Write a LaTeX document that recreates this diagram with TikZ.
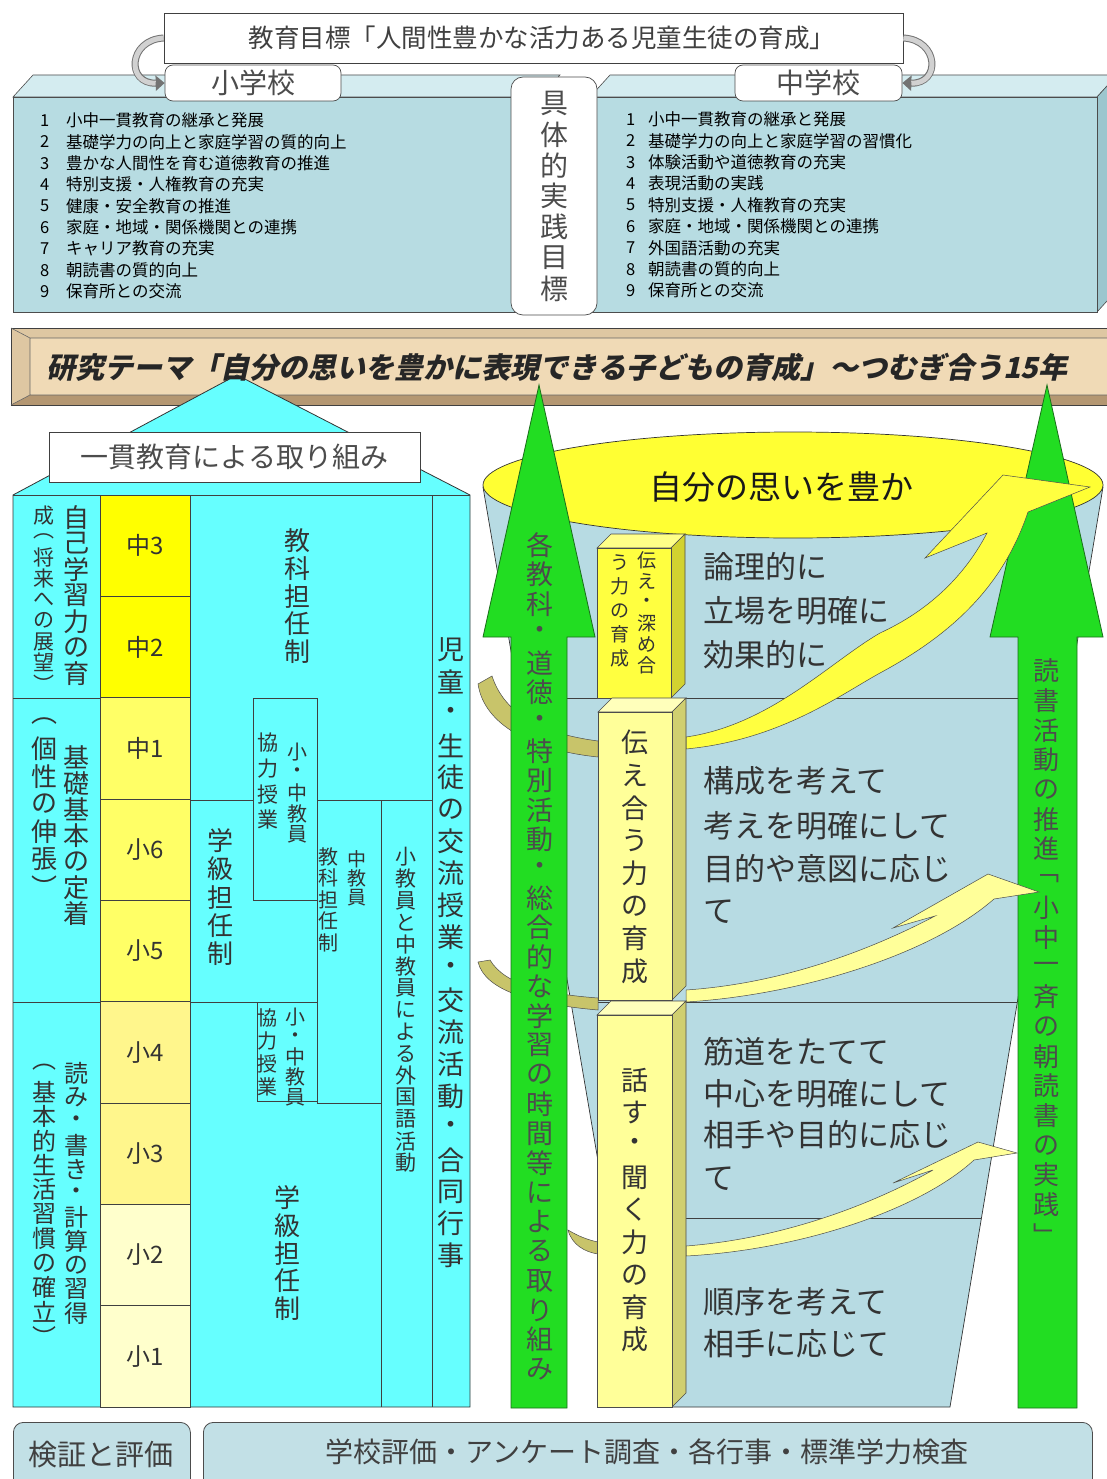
\documentclass[tikz,border=0pt]{standalone}
\usepackage{fontspec}
\setmainfont{Noto Sans CJK JP}
\newfontfamily\bannerfont{Noto Sans CJK JP}[FakeSlant=0.22]
\usetikzlibrary{arrows.meta}
\definecolor{panel}{HTML}{B7DCE2}
\definecolor{paneltop}{HTML}{D4ECF0}
\definecolor{panelside}{HTML}{9CC6CE}
\definecolor{bannerface}{HTML}{F0DAB6}
\definecolor{bannerlight}{HTML}{DEC7A2}
\definecolor{bannerdark}{HTML}{B49772}
\definecolor{cyanb}{HTML}{66FFFF}
\definecolor{gA}{HTML}{FFFF00}
\definecolor{gB}{HTML}{FFFF66}
\definecolor{gC}{HTML}{FFF68C}
\definecolor{gD}{HTML}{FFFFCC}
\definecolor{cup}{HTML}{B7DBE3}
\definecolor{grn}{HTML}{22DD22}
\definecolor{grnline}{HTML}{1B6E1B}
\definecolor{ell}{HTML}{FFFF33}
\definecolor{swA}{HTML}{FFFF40}
\definecolor{swB}{HTML}{FFFF99}
\definecolor{olv}{HTML}{C8C46A}
\definecolor{evalfill}{HTML}{C2E0E6}
\definecolor{txt}{HTML}{333333}
\definecolor{colAf}{HTML}{FFFF40}
\definecolor{colAt}{HTML}{FFFF88}
\definecolor{colAs}{HTML}{D2D230}
\definecolor{colBf}{HTML}{FFFF99}
\definecolor{colBt}{HTML}{FFFFBB}
\definecolor{colBs}{HTML}{D0CF70}
\newcommand\fsz[1]{\fontsize{#1}{#1}\selectfont}
\ExplSyntaxOn
\NewDocumentCommand \vt { O{1.05} m }
  {
    \vbox:n
      {
        \offinterlineskip
        \tl_map_inline:nn {#2}
          {
            \hbox_to_wd:nn {1em}
              { \hss \vbox_to_ht:nn {#1em} { \vss \hbox:n {##1} \vss } \hss }
          }
      }
  }
\ExplSyntaxOff
\begin{document}
\begin{tikzpicture}[x=1pt,y=-1pt,
  ln/.style={draw=black!75, line width=0.7pt},
  vn/.style={inner sep=0pt, anchor=north, text=black!80},
  listt/.style={anchor=west, inner sep=0pt, font=\fsz{16.5}, text=black},
  cell/.style={draw=black!75, line width=0.7pt, inner sep=0pt, font=\fsz{24}, text=txt},
  cuptxt/.style={anchor=west, inner sep=0pt, font=\fsz{31}, text=txt},
  rbox/.style={draw=black!70, line width=0.7pt, rounded corners=8pt, fill=white, inner sep=0pt, text=black!70},
  edge3/.style={draw=black!70, line width=0.6pt}]
\useasboundingbox (0,0) rectangle (1107,1479);
\fill[white] (0,0) rectangle (1107,1479);

% ---------- top panels
\filldraw[fill=paneltop, edge3] (13,97) -- (33,75) -- (560,75) -- (540,97) -- cycle;
\filldraw[fill=panel, edge3] (13,97) rectangle (540,312);
\filldraw[fill=paneltop, edge3] (590,97) -- (610,75) -- (1117,75) -- (1097,97) -- cycle;
\filldraw[fill=panelside, edge3] (1097,97) -- (1117,75) -- (1117,290) -- (1097,312) -- cycle;
\filldraw[fill=panel, edge3] (590,97) rectangle (1097,312);

\foreach \itm [count=\i] in {小中一貫教育の継承と発展,基礎学力の向上と家庭学習の質的向上,豊かな人間性を育む道徳教育の推進,特別支援・人権教育の充実,健康・安全教育の推進,家庭・地域・関係機関との連携,キャリア教育の充実,朝読書の質的向上,保育所との交流}{
  \node[listt] (sn\i) at (40,{99+21.4*\i}) {\i};
  \node[listt] (st\i) at (66,{99+21.4*\i}) {\itm};
}
\foreach \itm [count=\i] in {小中一貫教育の継承と発展,基礎学力の向上と家庭学習の習慣化,体験活動や道徳教育の充実,表現活動の実践,特別支援・人権教育の充実,家庭・地域・関係機関との連携,外国語活動の充実,朝読書の質的向上,保育所との交流}{
  \node[listt] (cn\i) at (626,{98+21.4*\i}) {\i};
  \node[listt] (ct\i) at (648,{98+21.4*\i}) {\itm};
}

\node[rbox, rounded corners=12pt, minimum width=86pt, minimum height=238pt] (jissen) at (554,196) {\fsz{28}\vt[1.1]{具体的実践目標}};
\node[rbox, minimum width=176pt, minimum height=36pt] (sho) at (253,83) {\fsz{28}小学校};
\node[rbox, minimum width=167pt, minimum height=36pt] (chu) at (818.5,83) {\fsz{28}中学校};
\node[draw=black!75, line width=0.8pt, fill=white, minimum width=739pt, minimum height=50pt, inner sep=0pt] (goal) at (533.5,38) {};
\node[inner sep=0pt, text=black!75] (goaltxt) at (542,38) {\fsz{25.5}教育目標「人間性豊かな活力ある児童生徒の育成」};

\draw[line width=7pt, black!55, -{Triangle[length=9pt,width=15pt]}] (goal.west) .. controls (128,40) and (126,84) .. (sho.west);
\draw[line width=5pt, black!18, shorten >=9pt] (goal.west) .. controls (128,40) and (126,84) .. (sho.west);
\draw[line width=7pt, black!55, -{Triangle[length=9pt,width=15pt]}] (goal.east) .. controls (939,40) and (941,84) .. (chu.east);
\draw[line width=5pt, black!18, shorten >=9pt] (goal.east) .. controls (939,40) and (941,84) .. (chu.east);

% ---------- banner
\fill[bannerdark] (11,328) rectangle (1110,405);
\fill[bannerlight] (11,328) -- (1110,328) -- (1110,338) -- (30,338) -- (30,395) -- (11,405) -- cycle;
\fill[bannerface] (30,338) rectangle (1110,395);
\draw[black!75, line width=0.8pt] (11,328) rectangle (1110,405);
\draw[black!60, line width=0.6pt] (30,338) -- (1110,338) (30,338) -- (30,395) -- (1110,395) (11,328) -- (30,338) (11,405) -- (30,395);

% ---------- house (left)
\filldraw[fill=cyanb, draw=black!80, line width=0.8pt] (13,1407) -- (13,495) -- (237,375) -- (470,495) -- (470,1407) -- cycle;
\draw[ln] (13,495) -- (470,495);
\node[inner sep=0pt, text=black!85] (theme) at (557,367) {\bannerfont\bfseries\fsz{29}研究テーマ「自分の思いを豊かに表現できる子どもの育成」〜つむぎ合う15年};
\node[draw=black!75, line width=0.8pt, fill=white, minimum width=371pt, minimum height=50pt, inner sep=0pt, text=black!70] (ikkan) at (234.5,457) {\fsz{28}一貫教育による取り組み};

\foreach \g/\gc [count=\i] in {中3/gA,中2/gA,中1/gB,小6/gB,小5/gB,小4/gC,小3/gC,小2/gD,小1/gD}{
  \node[cell, fill=\gc, minimum width=90pt, minimum height=101.33pt] (gr\i) at (145,{495+101.33*(\i-0.5)}) {\g};
}
\draw[ln] (13,698.3) -- (100,698.3);
\draw[ln] (13,1002) -- (100,1002);
\draw[ln] (190,800) -- (432,800);
\draw[ln] (432,495) -- (432,1407);
\draw[ln] (381,800) -- (381,1407);
\draw[ln] (190,1002) -- (317,1002);
\draw[ln] (317,900) -- (317,1103) -- (381,1103);
\node[draw=black!75, line width=0.7pt, fill=cyanb, minimum width=64pt, minimum height=202pt, anchor=north west, inner sep=0pt] (kyo1) at (253,698) {};
\node[draw=black!75, line width=0.7pt, fill=cyanb, minimum width=60pt, minimum height=99pt, anchor=north west, inner sep=0pt] (kyo2) at (257,1002) {};

\node[vn] (r1a) at (76,504) {\fsz{26}\vt[1.0]{自己学習力の育}};
\node[vn] (r1b) at (44,505) {\fsz{21}\vt[1.0]{成︵将来への展望︶}};
\node[vn] (r2a) at (76,744) {\fsz{26}\vt[1.0]{基礎基本の定着}};
\node[vn] (r2b) at (44,707) {\fsz{26}\vt[1.06]{︵個性の伸張︶}};
\node[vn] (r3a) at (76,1061) {\fsz{24}\vt[1.0]{読み・書き・計算の習得}};
\node[vn] (r3b) at (44,1055) {\fsz{24}\vt[1.02]{︵基本的生活習慣の確立︶}};

\node[vn] (kk) at (297,527) {\fsz{26}\vt[1.06]{教科担任制}};
\node[vn] (k1a) at (297,742) {\fsz{20}\vt[1.02]{小・中教員}};
\node[vn] (k1b) at (268,730) {\fsz{21}\vt[1.22]{協力授業}};
\node[vn] (gk1) at (220,826) {\fsz{26}\vt[1.09]{学級担任制}};
\node[vn] (ck1) at (357,850) {\fsz{19}\vt[1.0]{中教員}};
\node[vn] (ck2) at (328,846) {\fsz{20}\vt[1.07]{教科担任制}};
\node[vn] (gai) at (406,846) {\fsz{21}\vt[1.04]{小教員と中教員による外国語活動}};
\node[vn] (k2a) at (295,1007) {\fsz{20}\vt[1.0]{小・中教員}};
\node[vn] (k2b) at (267,1006) {\fsz{20}\vt[1.15]{協力授業}};
\node[vn] (gk2) at (287,1184) {\fsz{26}\vt[1.06]{学級担任制}};
\node[vn] (kouryu) at (451,634) {\fsz{27}\vt[1.18]{児童・生徒の交流授業・交流活動・合同行事}};

% ---------- cup (right)
\filldraw[fill=cup, draw=black!80, line width=0.7pt] (483,487) -- (1103,487) -- (950,1407) -- (640,1407) -- cycle;
\draw[ln] (519,698) -- (1068,698);
\draw[ln] (571,1002) -- (1017,1002);
\draw[ln] (608,1218) -- (981,1218);
\filldraw[fill=ell, draw=black!80, line width=0.7pt] (793,485) ellipse [x radius=310, y radius=53];
\node[inner sep=0pt, text=black!90] (omoi) at (781,487) {\fsz{33}自分の思いを豊か};

% olive back tails
\filldraw[fill=olv, draw=black!70, line width=0.5pt] (478,684) .. controls (484,724) and (530,750) .. (598,757) -- (598,741) .. controls (545,734) and (505,716) .. (492,676) -- cycle;
\filldraw[fill=olv, draw=black!70, line width=0.5pt] (478,962) .. controls (485,990) and (530,1004) .. (598,1010) -- (598,998) .. controls (545,994) and (505,985) .. (490,960) -- cycle;
\filldraw[fill=olv, draw=black!70, line width=0.5pt] (568,1230) .. controls (572,1245) and (585,1252) .. (598,1254) -- (598,1242) .. controls (588,1240) and (578,1236) .. (568,1230) -- cycle;

% green arrows
\filldraw[fill=grn, draw=grnline, line width=0.8pt] (511,1408) -- (511,637) -- (483,637) -- (539,385) -- (595,637) -- (567,637) -- (567,1408) -- cycle;
\filldraw[fill=grn, draw=grnline, line width=0.8pt] (1018,1408) -- (1018,637) -- (990,637) -- (1047,385) -- (1103,637) -- (1077,637) -- (1077,1408) -- cycle;
\node[vn, text=black!70] (gtxtL) at (540,530) {\fsz{27}\vt[1.09]{各教科・道徳・特別活動・総合的な学習の時間等による取り組み}};
\node[vn, text=black!70] (gtxtR) at (1046,656) {\fsz{26}\vt[1.14]{読書活動の推進﹁小中一斉の朝読書の実践﹂}};

% swirl front bands
\filldraw[fill=swA, draw=black!70, line width=0.5pt] (686,749) .. controls (780,740) and (840,695) .. (880,673) .. controls (960,630) and (1005,580) .. (1028,512) -- (1090,487) -- (1003,475) -- (925,558) -- (987,533) .. controls (965,575) and (930,610) .. (880,633) .. controls (830,662) and (770,725) .. (686,737) -- cycle;
\filldraw[fill=swB, draw=black!70, line width=0.5pt] (686,1002) .. controls (800,995) and (930,955) .. (994,899) -- (1039,892) -- (988,874) -- (893,928) -- (935,916) .. controls (880,945) and (790,983) .. (686,990) -- cycle;
\filldraw[fill=swB, draw=black!70, line width=0.5pt] (686,1256) .. controls (800,1250) and (920,1210) .. (974,1160) -- (1017,1153) -- (978,1142) -- (893,1183) -- (933,1170) .. controls (880,1200) and (790,1238) .. (686,1246) -- cycle;

% 3D columns
\filldraw[fill=colAt, edge3] (597,548) -- (611,534) -- (685,534) -- (671,548) -- cycle;
\filldraw[fill=colAs, edge3] (671,548) -- (685,534) -- (685,684) -- (671,698) -- cycle;
\filldraw[fill=colAf, edge3] (597,548) rectangle (671,698);
\filldraw[fill=colBt, edge3] (598,712) -- (612,698) -- (686,698) -- (672,712) -- cycle;
\filldraw[fill=colBs, edge3] (672,712) -- (686,698) -- (686,986) -- (672,1000) -- cycle;
\filldraw[fill=colBf, edge3] (598,712) rectangle (672,1000);
\filldraw[fill=colBt, edge3] (597,1015) -- (611,1001) -- (686,1001) -- (672,1015) -- cycle;
\filldraw[fill=colBs, edge3] (672,1015) -- (686,1001) -- (686,1393) -- (672,1407) -- cycle;
\filldraw[fill=colBf, edge3] (597,1015) rectangle (672,1407);

\node[vn] (c1a) at (647,550) {\fsz{19}\vt[1.1]{伝え・深め合}};
\node[vn] (c1b) at (620,550) {\fsz{19}\vt[1.27]{う力の育成}};
\node[vn] (c2) at (635,726) {\fsz{27}\vt[1.21]{伝え合う力の育成}};
\node[vn] (c3) at (635,1064) {\fsz{27}\vt[1.2]{話す・聞く力の育成}};

\node[cuptxt] (t11) at (703,567) {論理的に};
\node[cuptxt] (t12) at (703,611) {立場を明確に};
\node[cuptxt] (t13) at (703,655) {効果的に};
\node[cuptxt] (t21) at (703,781) {構成を考えて};
\node[cuptxt] (t22) at (703,826) {考えを明確にして};
\node[cuptxt] (t23) at (703,869) {目的や意図に応じ};
\node[cuptxt] (t24) at (703,912) {て};
\node[cuptxt] (t31) at (703,1052) {筋道をたてて};
\node[cuptxt] (t32) at (703,1094) {中心を明確にして};
\node[cuptxt] (t33) at (703,1135) {相手や目的に応じ};
\node[cuptxt] (t34) at (703,1179) {て};
\node[cuptxt] (t41) at (703,1302) {順序を考えて};
\node[cuptxt] (t42) at (703,1344) {相手に応じて};

% ---------- bottom
\node[draw=black!70, line width=0.8pt, fill=evalfill, rounded corners=10pt, minimum width=177pt, minimum height=76pt, anchor=north west, inner sep=0pt] (ev) at (13,1422) {};
\node[inner sep=0pt, text=black!75] (evt) at (101,1455) {\fsz{29}検証と評価};
\node[draw=black!70, line width=0.8pt, fill=evalfill, rounded corners=10pt, minimum width=889pt, minimum height=76pt, anchor=north west, inner sep=0pt] (ev2) at (203,1422) {};
\node[inner sep=0pt, text=black!75] (ev2t) at (647,1452) {\fsz{28}学校評価・アンケート調査・各行事・標準学力検査};
\end{tikzpicture}
\end{document}
